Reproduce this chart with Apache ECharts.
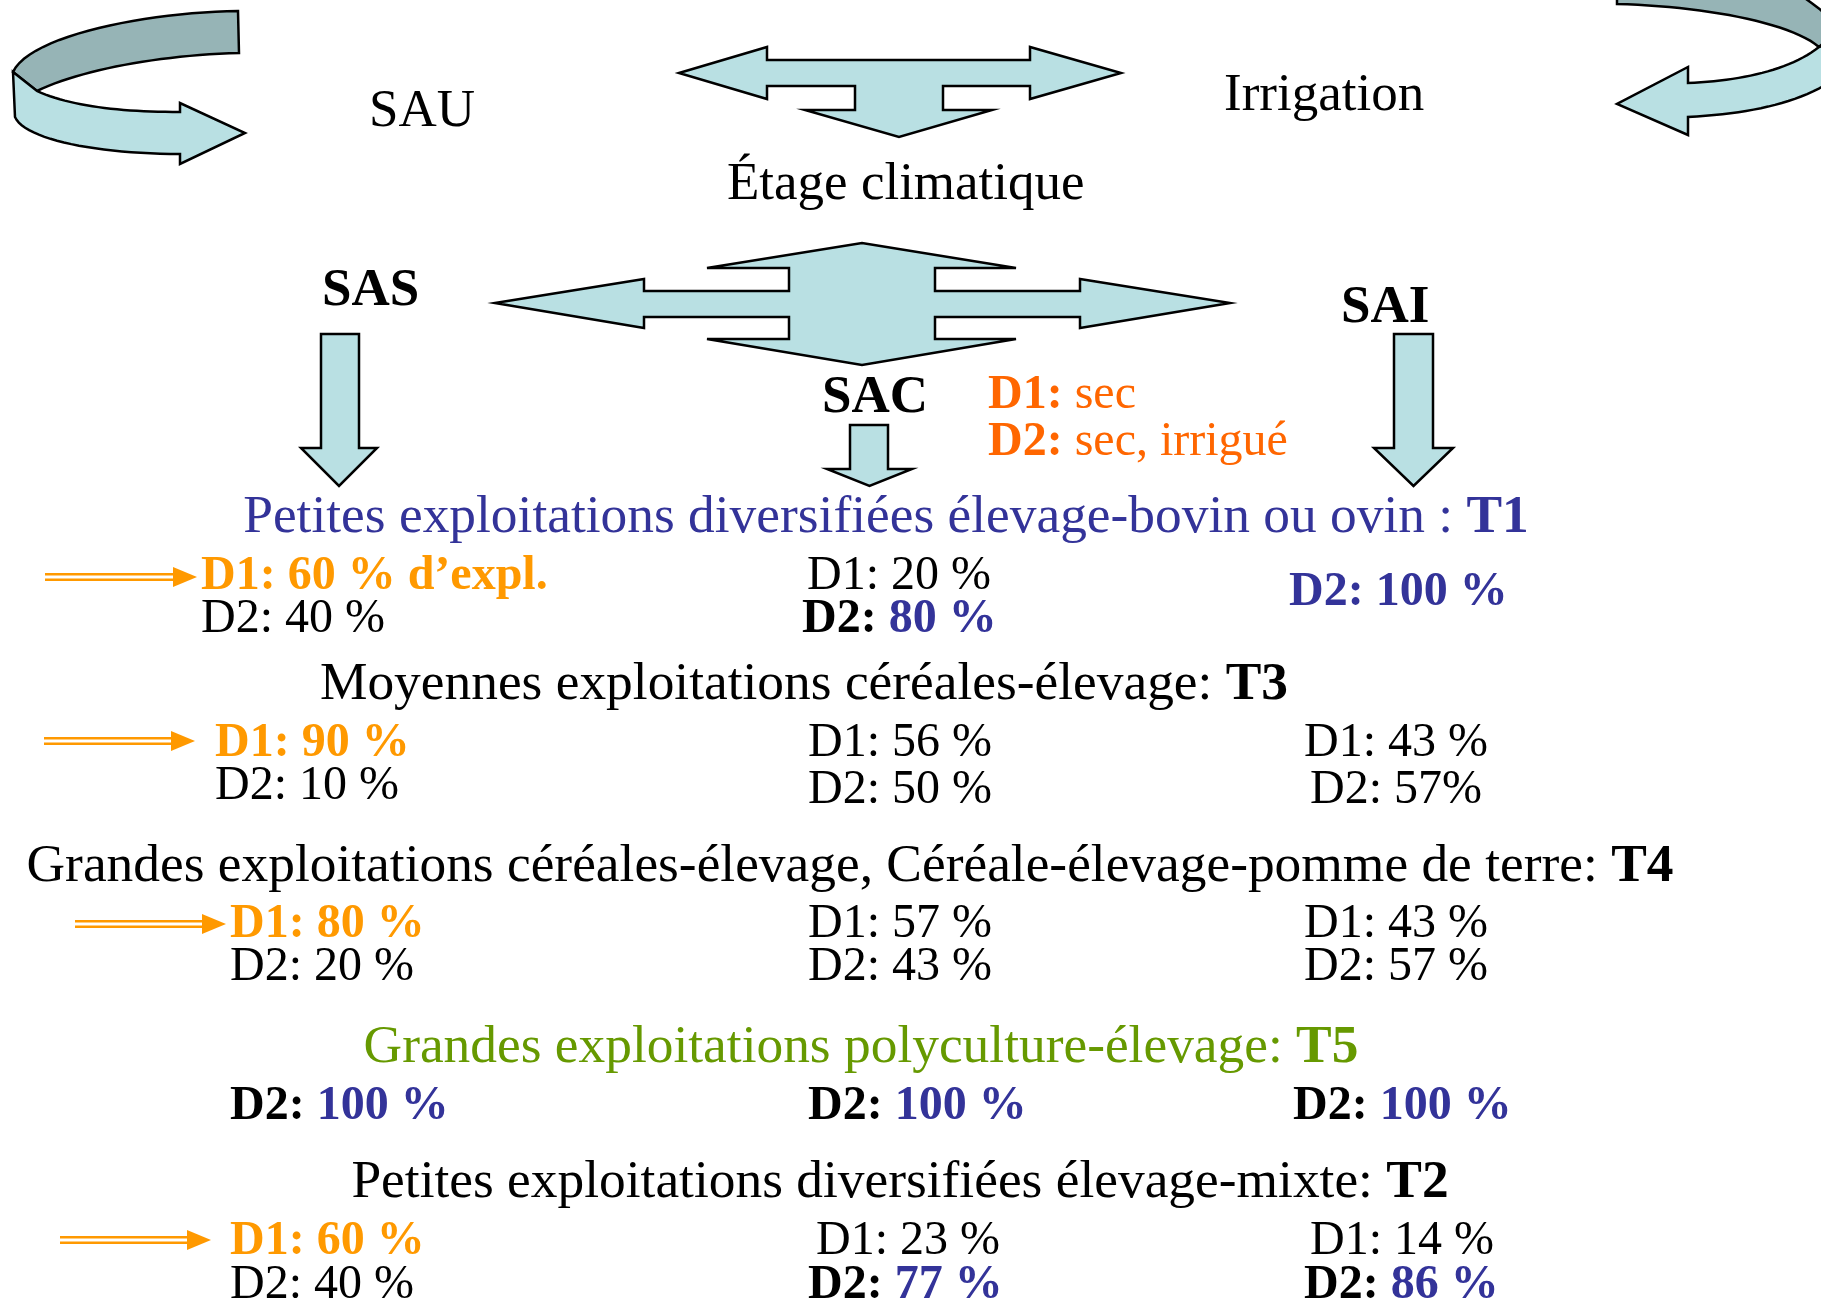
<!DOCTYPE html>
<html>
<head>
<meta charset="utf-8">
<script src="https://cdn.jsdelivr.net/npm/echarts@6/dist/echarts.min.js"></script>
<style>
html,body{margin:0;padding:0;background:#fff;}
#chart{width:1821px;height:1301px;}
</style>
</head>
<body>
<div id="chart"></div>
<script>
// ---------------- DATA ----------------
const topLabels = ['SAU', 'Irrigation', 'Étage climatique'];
const zoneNames = ['SAS', 'SAC', 'SAI'];
const deltaLabels = [['D1:', ' sec'], ['D2:', ' sec, irrigué']];
const typeCodes = ['T1', 'T3', 'T4', 'T5', 'T2'];
const typeNames = [
  'Petites exploitations diversifiées élevage-bovin ou ovin : ',
  'Moyennes exploitations céréales-élevage: ',
  'Grandes exploitations céréales-élevage, Céréale-élevage-pomme de terre: ',
  'Grandes exploitations polyculture-élevage: ',
  'Petites exploitations diversifiées élevage-mixte: '
];
// percentage of farms per zone (D1 / D2), null = not shown
const sasD1 = [60, 90, 80, null, 60];
const sasD2 = [40, 10, 20, 100, 40];
const sacD1 = [20, 56, 57, null, 23];
const sacD2 = [80, 50, 43, 100, 77];
const saiD1 = [null, 43, 43, null, 14];
const saiD2 = [100, 57, 57, 100, 86];

// ---------------- STYLE / LAYOUT ----------------
const FONT = '"Liberation Serif", "Times New Roman", serif';
const C_BLUE = '#333399', C_ORANGE = '#FF9900', C_ORANGE2 = '#FF6600', C_GREEN = '#669900';
const C_FILL = '#B9E0E3', C_DARK = '#96B4B6';
const titleColors = [C_BLUE, '#000', '#000', C_GREEN, '#000'];
const BIG = 53.4, MID = 53, SMALL = 48;

// layout per type row
const rowLayout = [
  {title: [886, 530], d1: 587, d2: 630, sas: [201, 201], sac: [807, 802], sai: [1289, 1289], saiD2base: 603, arrow: [45, 197, 577]},
  {title: [804, 697], d1: 754, d2: 797, d2b: 801, sas: [215, 215], sac: [808, 808], sai: [1304, 1310], arrow: [44, 195, 741]},
  {title: [850, 879], d1: 935, d2: 978, sas: [230, 230], sac: [808, 808], sai: [1304, 1304], arrow: [75, 226, 924]},
  {title: [861, 1060], d1: null, d2: 1117, sas: [230, 230], sac: [808, 808], sai: [1293, 1293]},
  {title: [900, 1195], d1: 1252, d2: 1296, sas: [230, 230], sac: [816, 808], sai: [1310, 1304], arrow: [60, 211, 1240]}
];

const els = [];
const richStyles = {
  r: {fontFamily: FONT, fontSize: SMALL, fill: '#000'},
  b: {fontFamily: FONT, fontSize: SMALL, fontWeight: 'bold', fill: '#000'},
  bo: {fontFamily: FONT, fontSize: SMALL, fontWeight: 'bold', fill: C_ORANGE},
  bb: {fontFamily: FONT, fontSize: SMALL, fontWeight: 'bold', fill: C_BLUE},
  bo2: {fontFamily: FONT, fontSize: SMALL, fontWeight: 'bold', fill: C_ORANGE2},
  ro2: {fontFamily: FONT, fontSize: SMALL, fill: C_ORANGE2}
};
function text(x, base, str, size, align, rich) {
  els.push({
    type: 'text', x: x, y: base - 0.3375 * size + 6, silent: true,
    style: {text: str, align: align || 'left', verticalAlign: 'middle',
      fontFamily: FONT, fontSize: size, fill: '#000', rich: rich || richStyles}
  });
}
function poly(points, fill) {
  els.push({type: 'polygon', shape: {points: points}, silent: true,
    style: {fill: fill || C_FILL, stroke: '#000', lineWidth: 2.5, lineJoin: 'miter'}});
}
// sample a path made of M/L/C commands into polygon points
function pathPts(cmds) {
  const pts = [];
  let cx = 0, cy = 0;
  cmds.forEach(function (c) {
    if (c[0] === 'M' || c[0] === 'L') { cx = c[1]; cy = c[2]; pts.push([cx, cy]); }
    else if (c[0] === 'C') {
      const x0 = cx, y0 = cy;
      for (let i = 1; i <= 24; i++) {
        const t = i / 24, u = 1 - t;
        pts.push([u*u*u*x0 + 3*u*u*t*c[1] + 3*u*t*t*c[3] + t*t*t*c[5],
                  u*u*u*y0 + 3*u*u*t*c[2] + 3*u*t*t*c[4] + t*t*t*c[6]]);
      }
      cx = c[5]; cy = c[6];
    }
  });
  return pts;
}

// ---------- curved arrows ----------
poly(pathPts([['M', 238, 11], ['C', 150, 12, 30, 35, 13, 72], ['L', 37, 91], ['C', 80, 70, 160, 55, 239, 53]]), C_DARK);
poly(pathPts([['M', 13, 72], ['L', 37, 91], ['C', 70, 106, 120, 112, 180, 112], ['L', 180, 103], ['L', 245, 133], ['L', 180, 164], ['L', 180, 154], ['C', 100, 154, 25, 140, 15, 117]]), C_FILL);

poly(pathPts([['M', 1617, -55], ['C', 1710, -52, 1790, -25, 1840, 28], ['L', 1819, 47], ['C', 1790, 22, 1700, 6, 1617, 4]]), C_DARK);
poly(pathPts([['M', 1819, 47], ['C', 1790, 70, 1740, 81, 1688, 83], ['L', 1688, 67], ['L', 1617, 104], ['L', 1688, 135], ['L', 1688, 117], ['C', 1760, 113, 1812, 100, 1850, 68], ['L', 1845, 40]]), C_FILL);

// ---------- block arrows ----------
poly([[679,73],[767,47],[767,60],[1030,60],[1030,47],[1121,73],[1030,99],[1030,86],[943,86],[943,110],[992,110],[899,137],[805,110],[855,110],[855,86],[767,86],[767,99]]);
poly([[495,303],[644,279],[644,291],[789,291],[789,268],[707,268],[862,243],[1016,268],[935,268],[935,291],[1080,291],[1080,279],[1230,303],[1080,328],[1080,317],[935,317],[935,339],[1016,339],[862,365],[707,339],[789,339],[789,317],[644,317],[644,328]]);
function downArrow(x0, x1, hx0, hx1, top, hb, tip) {
  poly([[x0, top], [x1, top], [x1, hb], [hx1, hb], [(hx0 + hx1) / 2, tip], [hx0, hb], [x0, hb]]);
}
downArrow(321, 359, 301, 377, 334, 448, 486);
downArrow(1394, 1433, 1374, 1453, 334, 448, 486);
downArrow(850, 888, 827, 912, 425, 469, 486);

// ---------- top labels ----------
text(422, 124, topLabels[0], MID, 'center');
text(1224, 108, topLabels[1], MID, 'left');
text(727, 197, topLabels[2], MID, 'left');
const bigBold = {z: {fontFamily: FONT, fontSize: MID, fontWeight: 'bold', fill: '#000'}};
text(322, 303, '{z|' + zoneNames[0] + '}', MID, 'left', bigBold);
text(822, 410, '{z|' + zoneNames[1] + '}', MID, 'left', bigBold);
text(1341, 320, '{z|' + zoneNames[2] + '}', MID, 'left', bigBold);
text(988, 406, '{bo2|' + deltaLabels[0][0] + '}{ro2|' + deltaLabels[0][1] + '}', SMALL);
text(988, 453, '{bo2|' + deltaLabels[1][0] + '}{ro2|' + deltaLabels[1][1] + '}', SMALL);

// ---------- type rows ----------
function dblArrow(a) {
  const x0 = a[0], x1 = a[1], y = a[2];
  els.push({type: 'line', shape: {x1: x0, y1: y - 2.8, x2: x1 - 20, y2: y - 2.8}, silent: true, style: {stroke: C_ORANGE, lineWidth: 2.4}});
  els.push({type: 'line', shape: {x1: x0, y1: y + 2.8, x2: x1 - 20, y2: y + 2.8}, silent: true, style: {stroke: C_ORANGE, lineWidth: 2.4}});
  els.push({type: 'polygon', shape: {points: [[x1 - 24, y - 10], [x1, y], [x1 - 24, y + 10]]}, silent: true, style: {fill: C_ORANGE}});
}
const pct = function (v, sp) { return v + (sp === false ? '%' : ' %'); };

typeCodes.forEach(function (code, i) {
  const L = rowLayout[i];
  const tc = titleColors[i];
  const rich = {
    a: {fontFamily: FONT, fontSize: BIG, fill: tc},
    c: {fontFamily: FONT, fontSize: BIG, fontWeight: 'bold', fill: tc}
  };
  text(L.title[0], L.title[1], '{a|' + typeNames[i] + '}{c|' + code + '}', BIG, 'center', rich);
  if (L.arrow) dblArrow(L.arrow);

  // SAS column
  if (sasD1[i] != null) {
    text(L.sas[0], L.d1, '{bo|D1: ' + pct(sasD1[i]) + (i === 0 ? ' d’expl.' : '') + '}', SMALL);
  }
  if (sasD2[i] != null) {
    if (sasD2[i] >= 75) text(L.sas[1], L.d2, '{b|D2: }{bb|' + pct(sasD2[i]) + '}', SMALL);
    else text(L.sas[1], L.d2, '{r|D2: ' + pct(sasD2[i]) + '}', SMALL);
  }
  // SAC column
  if (sacD1[i] != null) text(L.sac[0], L.d1, '{r|D1: ' + pct(sacD1[i]) + '}', SMALL);
  if (sacD2[i] != null) {
    const b = L.d2b || L.d2;
    if (sacD2[i] >= 75) text(L.sac[1], b, '{b|D2: }{bb|' + pct(sacD2[i]) + '}', SMALL);
    else text(L.sac[1], b, '{r|D2: ' + pct(sacD2[i]) + '}', SMALL);
  }
  // SAI column
  if (saiD1[i] != null) text(L.sai[0], L.d1, '{r|D1: ' + pct(saiD1[i]) + '}', SMALL);
  if (saiD2[i] != null) {
    const b = L.saiD2base || L.d2b || L.d2;
    if (L.saiD2base) text(L.sai[1], b, '{bb|D2: ' + pct(saiD2[i]) + '}', SMALL);
    else if (saiD2[i] >= 75) text(L.sai[1], b, '{b|D2: }{bb|' + pct(saiD2[i]) + '}', SMALL);
    else text(L.sai[1], b, '{r|D2: ' + pct(saiD2[i], i !== 1) + '}', SMALL);
  }
});

const chart = echarts.init(document.getElementById('chart'), null, {renderer: 'canvas'});
chart.setOption({
  backgroundColor: '#ffffff',
  animation: false,
  graphic: {elements: els}
});
</script>
</body>
</html>
